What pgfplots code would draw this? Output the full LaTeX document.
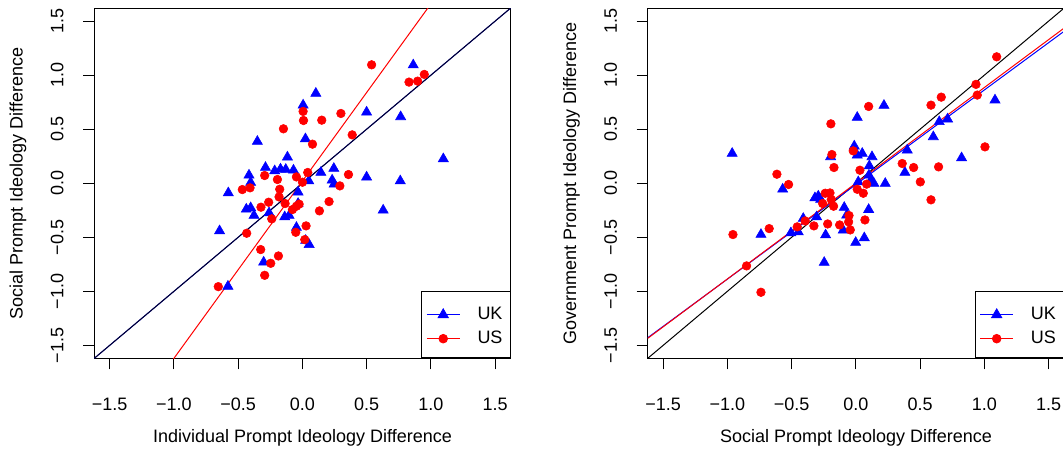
\documentclass[border=0pt]{standalone}
\usepackage{pgfplots}
\pgfplotsset{compat=1.18}
\usepackage{fontspec}
\setmainfont{Liberation Sans}

\begin{document}
\begin{tikzpicture}[font=\fontsize{13.5}{16}\selectfont]
\useasboundingbox (0,0) rectangle (797.25pt,336.75pt);
\pgfplotsset{
  rstyle/.style={
    scale only axis, width=312.3pt, height=262.7pt, anchor=south west,
    xmin=-1.62, xmax=1.62, ymin=-1.62, ymax=1.62,
    xtick={-1.5,-1,-0.5,0,0.5,1,1.5},
    ytick={-1.5,-1,-0.5,0,0.5,1,1.5},
    xticklabels={−1.5,−1.0,−0.5,0.0,0.5,1.0,1.5},
    yticklabels={−1.5,−1.0,−0.5,0.0,0.5,1.0,1.5},
    xtick pos=bottom, ytick pos=left, tick align=outside,
    major tick length=8.25pt,
    tick style={black, line width=0.75pt},
    axis line style={line width=0.75pt},
    xticklabel style={anchor=center, yshift=-26pt},
    yticklabel style={anchor=center, rotate=90, yshift=19.5pt},
    every axis x label/.style={at={(axis description cs:0.5,-0.228)}, anchor=center},
    every axis y label/.style={at={(axis description cs:-0.183,0.5)}, rotate=90, anchor=center},
    legend style={at={(1,0)}, anchor=south east, draw=black, line width=0.75pt, fill=white,
      inner xsep=0pt, inner ysep=6.85pt, row sep=0pt, column sep=0pt,
      nodes={inner sep=0pt, text width=24.5pt, anchor=west}},
    legend cell align=left,
    legend image code/.code={
      \path[draw=none, fill=none] (0pt,-7.5pt) rectangle (41.8pt,10.5pt);
      \draw[##1, mark=none] (3.75pt,0pt) -- (28.5pt,0pt);
      \draw[##1, draw=none] plot coordinates {(16.1pt,0pt)};
    },
  },
  ukm/.style={only marks, mark=triangle*, mark size=4.4pt, color=blue, mark options={draw=none, fill=blue}},
  usm/.style={only marks, mark=*, mark size=3.25pt, color=red, mark options={draw=none, fill=red}},
}

% ---------- Left panel ----------
\begin{axis}[rstyle, at={(70.7pt,68pt)},
  xlabel={Individual Prompt Ideology Difference},
  ylabel={Social Prompt Ideology Difference}]
\addlegendimage{blue, line width=0.6pt, mark=triangle*, mark size=4.4pt, mark options={draw=none, fill=blue}}
\addlegendentry{UK}
\addlegendimage{red, line width=0.6pt, mark=*, mark size=3.25pt, mark options={draw=none, fill=red}}
\addlegendentry{US}
\addplot[ukm, forget plot] table {
0.862 1.093
0.104 0.831
0.005 0.722
0.499 0.657
0.764 0.614
-0.351 0.386
0.023 0.410
1.096 0.225
-0.117 0.241
-0.288 0.145
-0.216 0.114
-0.171 0.130
-0.130 0.127
-0.070 0.120
0.143 0.099
0.244 0.136
-0.416 0.074
0.499 0.056
0.761 0.021
-0.403 0.006
0.231 0.028
0.246 -0.009
0.049 0.021
-0.577 -0.090
-0.034 -0.083
0.628 -0.250
-0.437 -0.241
-0.403 -0.228
-0.377 -0.299
-0.260 -0.275
-0.138 -0.312
-0.104 -0.299
-0.034 -0.188
-0.047 -0.410
-0.645 -0.441
0.052 -0.568
0.025 -0.530
-0.302 -0.731
-0.580 -0.954
};
\addplot[usm, forget plot] table {
0.538 1.095
0.948 1.006
0.896 0.944
0.829 0.935
0.005 0.664
0.008 0.580
0.150 0.583
0.299 0.645
-0.148 0.503
0.387 0.447
0.078 0.361
-0.294 0.071
-0.195 0.034
-0.047 0.058
0.041 0.099
0.000 0.009
0.358 0.080
0.291 -0.025
-0.468 -0.059
-0.408 -0.043
-0.177 -0.056
-0.182 -0.127
0.207 -0.170
-0.135 -0.188
-0.263 -0.176
-0.323 -0.222
0.132 -0.256
-0.026 -0.194
-0.047 -0.213
-0.078 -0.244
-0.239 -0.330
0.028 -0.395
-0.052 -0.454
-0.434 -0.463
0.018 -0.522
-0.325 -0.614
-0.187 -0.673
-0.247 -0.741
-0.294 -0.852
-0.655 -0.957
};
\addplot[blue, line width=0.75pt, forget plot] coordinates {(-1.62,-1.62) (1.62,1.62)};
\addplot[red, line width=0.75pt, forget plot] coordinates {(-1.1,-1.784) (1.1,1.824)};
\addplot[black, line width=0.75pt, opacity=0.85, forget plot] coordinates {(-1.62,-1.62) (1.62,1.62)};
\end{axis}

% ---------- Right panel ----------
\begin{axis}[rstyle, at={(485.8pt,68pt)},
  xlabel={Social Prompt Ideology Difference},
  ylabel={Government Prompt Ideology Difference}]
\addlegendimage{blue, line width=0.6pt, mark=triangle*, mark size=4.4pt, mark options={draw=none, fill=blue}}
\addlegendentry{UK}
\addlegendimage{red, line width=0.6pt, mark=*, mark size=3.25pt, mark options={draw=none, fill=red}}
\addlegendentry{US}
\addplot[ukm, forget plot] table {
0.218 0.719
0.010 0.608
1.082 0.769
0.648 0.568
0.713 0.593
0.602 0.429
0.399 0.306
0.822 0.234
-0.963 0.275
-0.197 0.244
-0.013 0.343
0.010 0.259
0.049 0.275
0.125 0.244
0.104 0.160
0.381 0.099
0.101 0.074
0.117 0.028
0.140 -0.003
0.228 -0.003
0.018 0.012
-0.570 -0.056
-0.319 -0.136
-0.293 -0.120
-0.275 -0.151
-0.091 -0.225
0.099 -0.244
-0.072 -0.296
-0.410 -0.327
-0.306 -0.312
-0.506 -0.460
-0.449 -0.451
-0.739 -0.475
-0.236 -0.479
-0.099 -0.435
-0.002 -0.549
0.065 -0.506
-0.247 -0.734
};
\addplot[usm, forget plot] table {
1.095 1.169
0.934 0.914
0.944 0.815
0.664 0.796
0.584 0.722
0.099 0.710
-0.195 0.549
1.004 0.336
-0.021 0.299
-0.187 0.265
-0.171 0.145
0.360 0.182
0.449 0.145
0.643 0.151
0.031 0.120
-0.615 0.083
-0.524 -0.012
0.501 0.012
0.584 -0.154
0.083 -0.009
0.010 -0.056
0.057 -0.093
-0.239 -0.093
-0.202 -0.090
-0.259 -0.188
-0.192 -0.151
-0.174 -0.213
-0.054 -0.299
-0.057 -0.358
-0.127 -0.386
-0.044 -0.432
0.070 -0.340
-0.220 -0.377
-0.327 -0.395
-0.395 -0.349
-0.457 -0.404
-0.675 -0.420
-0.957 -0.475
-0.851 -0.765
-0.739 -1.009
};
\addplot[black, line width=0.75pt, forget plot] coordinates {(-1.62,-1.62) (1.62,1.62)};
\addplot[blue, line width=0.75pt, forget plot] coordinates {(-1.62,-1.4295) (1.62,1.4055)};
\addplot[red, line width=0.75pt, forget plot] coordinates {(-1.62,-1.435) (1.62,1.435)};
\end{axis}
\end{tikzpicture}
\end{document}
